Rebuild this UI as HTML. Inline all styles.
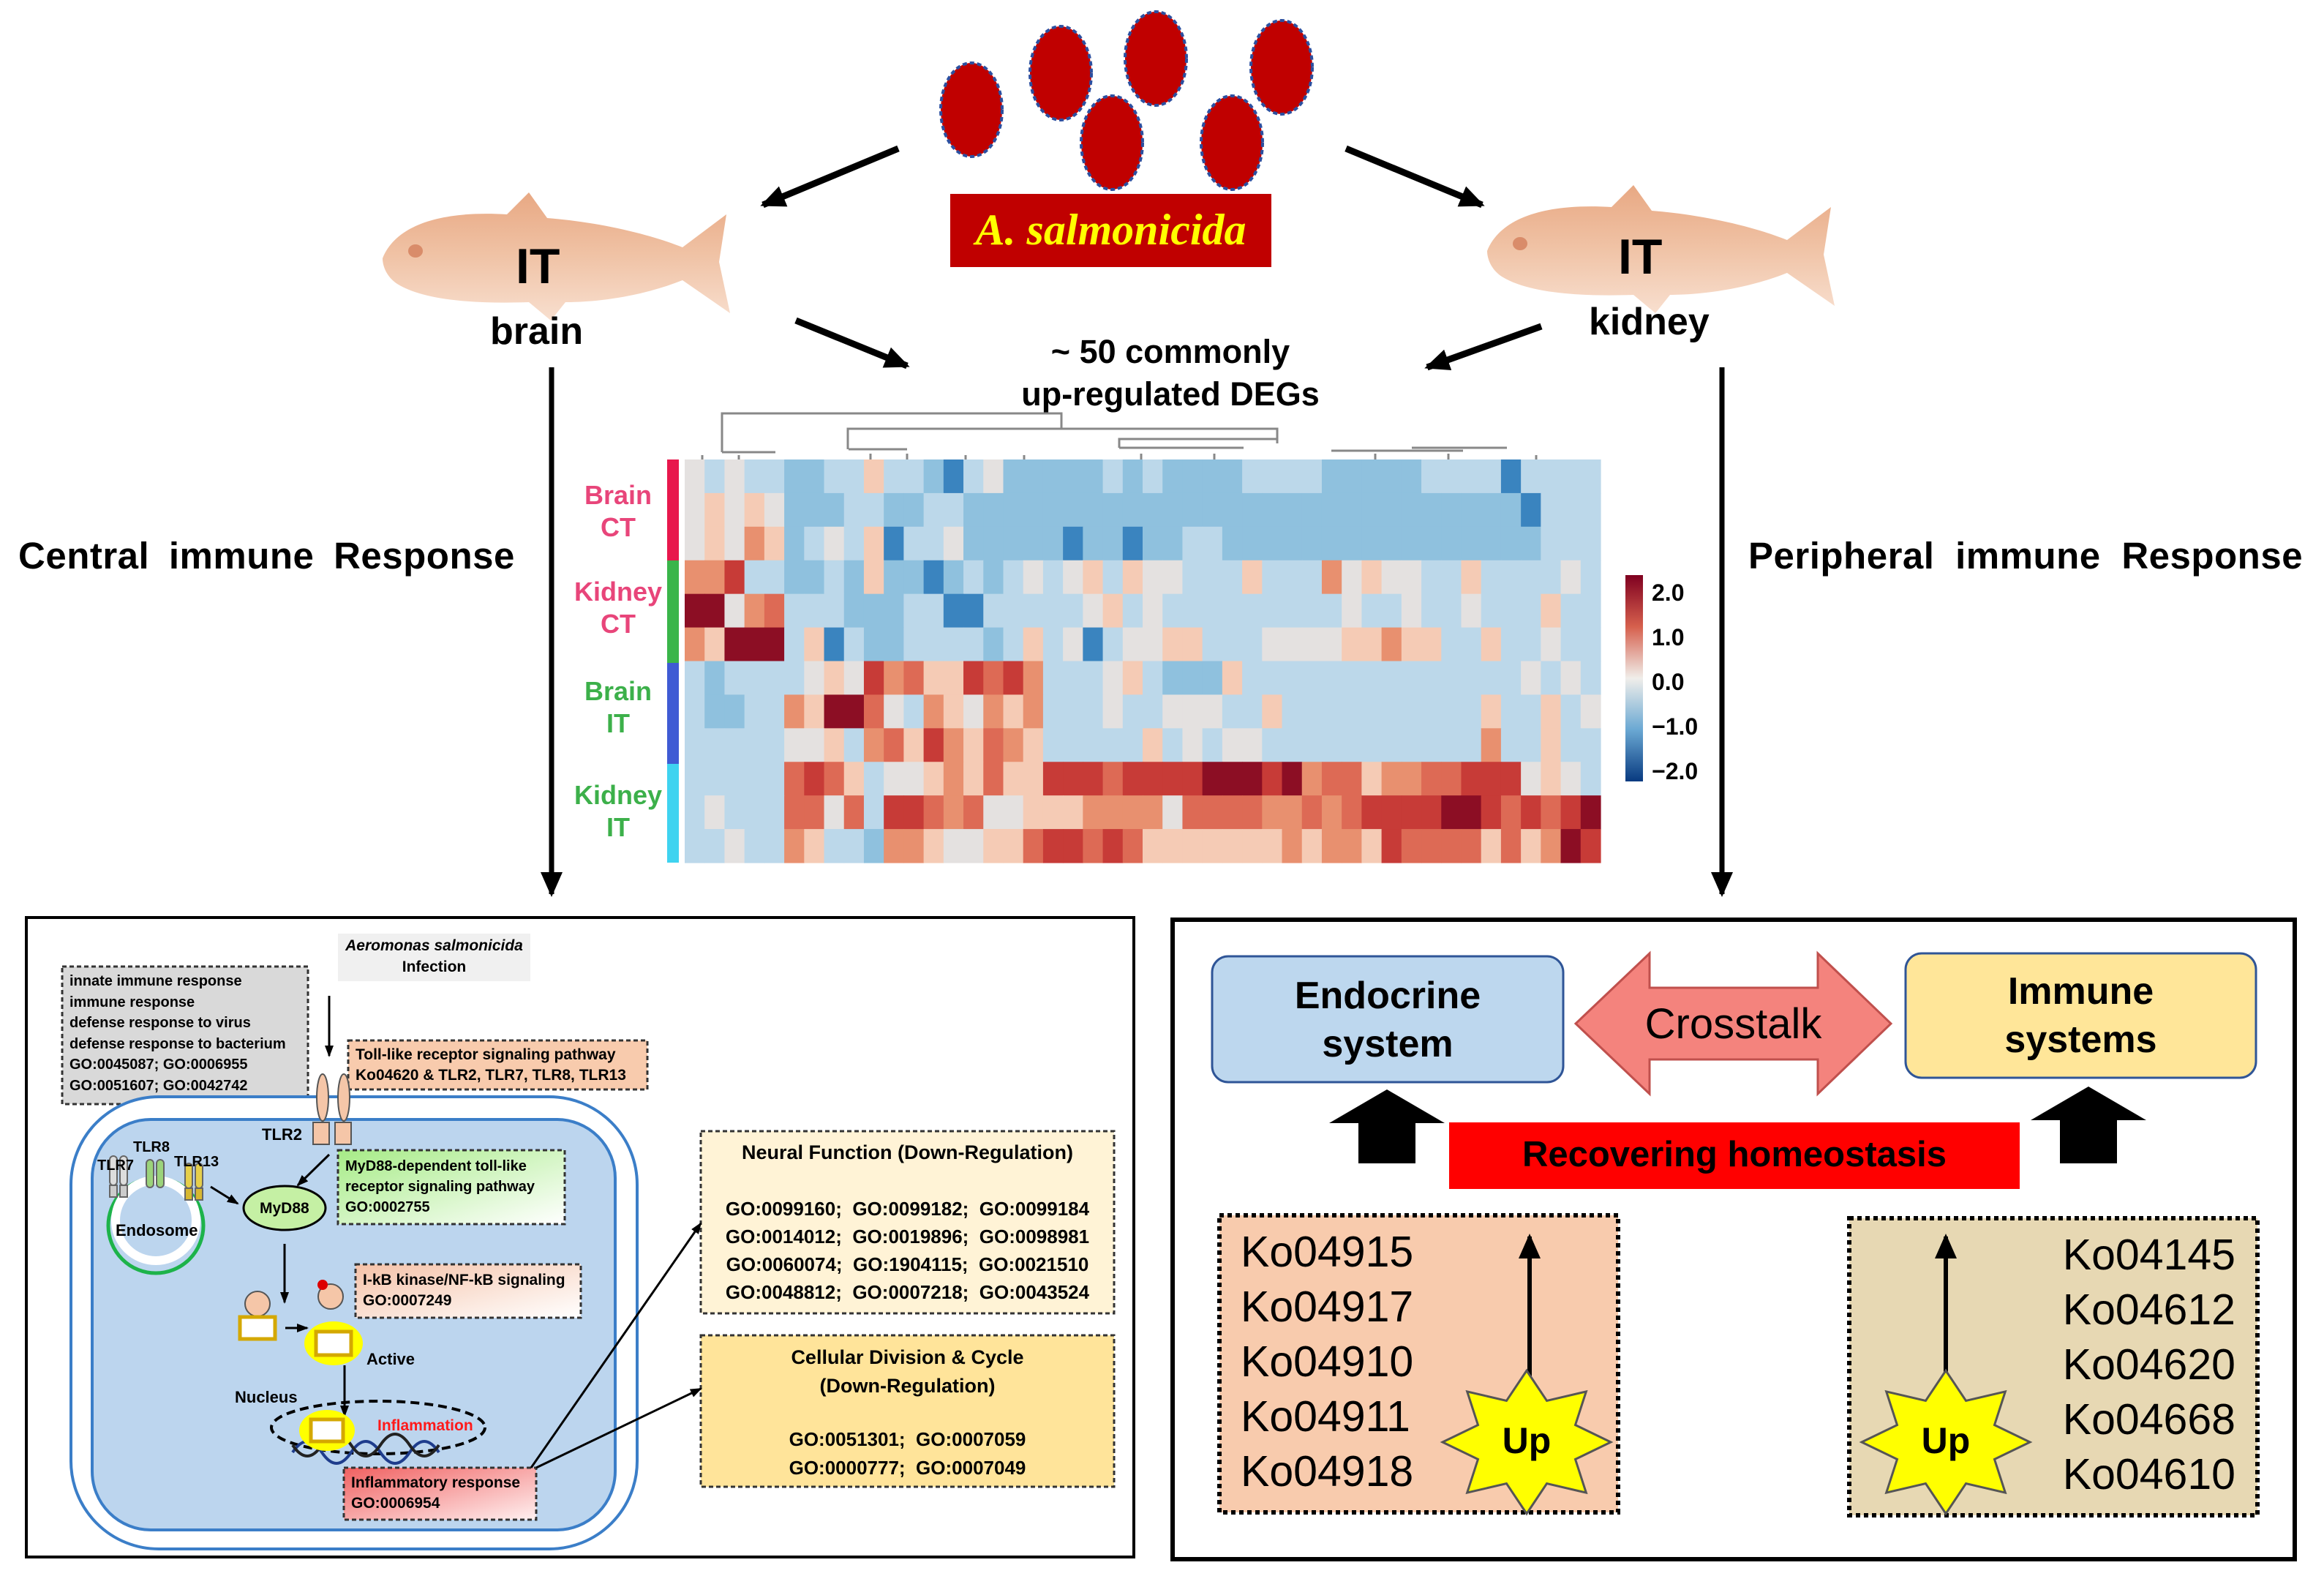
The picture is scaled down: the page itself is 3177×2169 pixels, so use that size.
<!DOCTYPE html>
<html><head><meta charset="utf-8"><style>
body{margin:0;width:3177px;height:2169px;background:#fff;position:relative;overflow:hidden;font-family:"Liberation Sans",sans-serif}
.a{position:absolute}
.t{position:absolute;white-space:nowrap}
.b{font-weight:bold}
</style></head><body>
<svg class="a" style="left:0;top:0" width="3177" height="2169" viewBox="0 0 3177 2169">
<defs>
<marker id="ah" markerWidth="10" markerHeight="10" refX="8" refY="5" orient="auto" markerUnits="userSpaceOnUse" viewBox="0 0 10 10"><path d="M0,0 L10,5 L0,10 z" fill="#000"/></marker>
<marker id="ahs" markerWidth="16" markerHeight="16" refX="14" refY="8" orient="auto" markerUnits="userSpaceOnUse" viewBox="0 0 16 16"><path d="M0,2 L16,8 L0,14 z" fill="#000"/></marker>
<marker id="ahb" markerWidth="34" markerHeight="34" refX="30" refY="17" orient="auto" markerUnits="userSpaceOnUse" viewBox="0 0 34 34"><path d="M0,2 L34,17 L0,32 z" fill="#000"/></marker>
<linearGradient id="gg" x1="0" x2="1" y1="0" y2="1"><stop offset="0" stop-color="#a6eb86"/><stop offset="1" stop-color="#fff"/></linearGradient>
<linearGradient id="gs" x1="0" x2="1" y1="0" y2="1"><stop offset="0" stop-color="#f5c2a8"/><stop offset="1" stop-color="#fff"/></linearGradient>
<linearGradient id="gr" x1="0" x2="1" y1="0" y2="1"><stop offset="0" stop-color="#f06060"/><stop offset="1" stop-color="#fff0f0"/></linearGradient>
<linearGradient id="fg" x1="0" x2="0" y1="0" y2="1"><stop offset="0" stop-color="#e8a883"/><stop offset=".5" stop-color="#f0c3a6"/><stop offset="1" stop-color="#f8dfcf"/></linearGradient>
<g id="fish">
<path d="M0,90 C20,40 90,25 170,30 L200,0 L225,35 C290,40 360,55 410,75 L470,30 L460,95 L475,165 L410,120 C360,140 300,150 250,150 L230,175 L200,150 C140,152 60,150 20,125 C5,115 0,100 0,90z" fill="url(#fg)"/>
<ellipse cx="45" cy="80" rx="10" ry="9" fill="#d98c6a"/>
</g>
<g id="bac"><ellipse cx="0" cy="0" rx="42" ry="64" fill="#c00000" stroke="#2b4fa0" stroke-width="4" stroke-dasharray="6 4"/></g>
</defs>
<use href="#bac" x="1328" y="150"/><use href="#bac" x="1450" y="100"/><use href="#bac" x="1580" y="80"/><use href="#bac" x="1752" y="92"/><use href="#bac" x="1520" y="195"/><use href="#bac" x="1684" y="195"/>
<use href="#fish" transform="translate(523,263)"/>
<use href="#fish" transform="translate(2033,253)"/>
<g stroke="#000" stroke-width="9" fill="none">
<line x1="1228" y1="203" x2="1043" y2="280" marker-end="url(#ahb)"/>
<line x1="1840" y1="203" x2="2026" y2="280" marker-end="url(#ahb)"/>
<line x1="1088" y1="438" x2="1240" y2="500" marker-end="url(#ahb)"/>
<line x1="2107" y1="446" x2="1951" y2="502" marker-end="url(#ahb)"/>
<line x1="754" y1="502" x2="754" y2="1222" stroke-width="7" marker-end="url(#ahb)"/>
<line x1="2354" y1="502" x2="2354" y2="1222" stroke-width="7" marker-end="url(#ahb)"/>
</g>
<g stroke="#888" stroke-width="3" fill="none">
<path d="M987,618 V565 H1451 V586"/>
<path d="M1159,614 V586 H1746 V606"/>
<path d="M1530,612 V600 H1746 V606"/>
<path d="M1530,612 H1700 M1160,614 H1240 M987,618 H1060 M1820,616 H2000 M1930,612 H2060"/>
<path d="M1190,620 V628 M1240,620 V628 M1320,622 V628 M1400,622 V628 M1560,620 V628 M1660,620 V628 M1880,620 V628 M1980,620 V628 M2100,622 V628 M960,622 V628 M1010,622 V628"/>
</g>
<rect x="912" y="628" width="16" height="138" fill="#e8174c"/>
<rect x="912" y="766" width="16" height="140" fill="#3ab54a"/>
<rect x="912" y="906" width="16" height="138" fill="#3f5bd4"/>
<rect x="912" y="1044" width="16" height="135" fill="#3fd3f0"/>
<g id="hm"></g>
<defs><linearGradient id="lg" x1="0" x2="0" y1="0" y2="1"><stop offset="0" stop-color="#7f0020"/><stop offset=".25" stop-color="#d6604d"/><stop offset=".5" stop-color="#f0eeea"/><stop offset=".75" stop-color="#6aa8d3"/><stop offset="1" stop-color="#083a80"/></linearGradient></defs>
<rect x="2222" y="786" width="24" height="282" fill="url(#lg)"/>
<rect x="36" y="1254" width="1514" height="874" fill="#fff" stroke="#000" stroke-width="4"/>
<rect x="462" y="1276" width="263" height="65" fill="#f0f0f0"/>
<rect x="85" y="1321" width="336" height="188" fill="#d9d9d9" stroke="#333" stroke-width="3" stroke-dasharray="6 4"/>
<rect x="97" y="1499" width="774" height="618" rx="120" fill="#fff" stroke="#3b7ec8" stroke-width="4"/>
<rect x="126" y="1530" width="715" height="561" rx="80" fill="#bcd5ee" stroke="#3b7ec8" stroke-width="4"/>
<line x1="450" y1="1361" x2="450" y2="1443" stroke="#000" stroke-width="3" marker-end="url(#ahs)"/>
<rect x="476" y="1422" width="409" height="67" fill="#f8cbad" stroke="#333" stroke-width="3" stroke-dasharray="6 4"/>
<g fill="#f5c6a8" stroke="#555" stroke-width="2">
<ellipse cx="441" cy="1500" rx="8" ry="32"/><ellipse cx="470" cy="1500" rx="8" ry="32"/>
<rect x="428" y="1534" width="22" height="30"/><rect x="458" y="1534" width="22" height="30"/>
</g>
<circle cx="213" cy="1675" r="65" fill="none" stroke="#1db34a" stroke-width="5"/>
<circle cx="213" cy="1668" r="55" fill="none" stroke="#fff" stroke-width="12"/>
<g stroke="#666" stroke-width="2">
<rect x="150" y="1580" width="10" height="40" rx="5" fill="#ddd"/><rect x="164" y="1580" width="10" height="40" rx="5" fill="#ddd"/>
<rect x="150" y="1620" width="10" height="16" fill="#ccc"/><rect x="164" y="1620" width="10" height="16" fill="#ccc"/>
<rect x="200" y="1585" width="10" height="38" rx="5" fill="#9bd37a"/><rect x="214" y="1585" width="10" height="38" rx="5" fill="#9bd37a"/>
<rect x="253" y="1590" width="10" height="34" rx="5" fill="#e6cf4a"/><rect x="267" y="1590" width="10" height="34" rx="5" fill="#e6cf4a"/>
<rect x="253" y="1624" width="10" height="16" fill="#d8b830"/><rect x="267" y="1624" width="10" height="16" fill="#d8b830"/>
</g>
<line x1="288" y1="1622" x2="325" y2="1645" stroke="#000" stroke-width="3" marker-end="url(#ahs)"/>
<line x1="450" y1="1578" x2="407" y2="1620" stroke="#000" stroke-width="3" marker-end="url(#ahs)"/>
<ellipse cx="389" cy="1651" rx="56" ry="30" fill="#c5f0a4" stroke="#000" stroke-width="3"/>
<rect x="462" y="1572" width="310" height="101" fill="url(#gg)" stroke="#333" stroke-width="3" stroke-dasharray="6 4"/>
<line x1="389" y1="1700" x2="389" y2="1780" stroke="#000" stroke-width="3" marker-end="url(#ahs)"/>
<rect x="486" y="1728" width="308" height="73" fill="url(#gs)" stroke="#333" stroke-width="3" stroke-dasharray="6 4"/>
<circle cx="352" cy="1782" r="17" fill="#f5c6a8" stroke="#555" stroke-width="2"/>
<rect x="328" y="1800" width="48" height="30" fill="#fff" stroke="#d4a800" stroke-width="5"/>
<circle cx="452" cy="1772" r="17" fill="#f5c6a8" stroke="#555" stroke-width="2"/>
<circle cx="441" cy="1756" r="7" fill="#d00"/>
<line x1="390" y1="1815" x2="420" y2="1815" stroke="#000" stroke-width="3" marker-end="url(#ahs)"/>
<ellipse cx="456" cy="1836" rx="40" ry="30" fill="#ffff00"/>
<rect x="432" y="1820" width="48" height="32" fill="#fff" stroke="#d4a800" stroke-width="5"/>
<line x1="471" y1="1866" x2="471" y2="1935" stroke="#000" stroke-width="3" marker-end="url(#ahs)"/>
<ellipse cx="517" cy="1951" rx="146" ry="36" fill="none" stroke="#000" stroke-width="4" stroke-dasharray="12 7"/>
<path d="M400,1985 q20,-30 40,0 t40,0 t40,0 t40,0 t40,0" fill="none" stroke="#1e3c8c" stroke-width="4"/>
<path d="M400,1975 q20,30 40,0 t40,0 t40,0 t40,0 t40,0" fill="none" stroke="#222" stroke-width="4"/>
<ellipse cx="447" cy="1955" rx="38" ry="28" fill="#ffff00"/>
<rect x="425" y="1940" width="44" height="30" fill="#fff" stroke="#d4a800" stroke-width="5"/>
<rect x="470" y="2006" width="263" height="71" fill="url(#gr)" stroke="#333" stroke-width="3" stroke-dasharray="6 4"/>
<rect x="958" y="1546" width="565" height="249" fill="#fff3d6" stroke="#333" stroke-width="3" stroke-dasharray="6 4"/>
<rect x="958" y="1825" width="565" height="207" fill="#ffe49a" stroke="#333" stroke-width="3" stroke-dasharray="6 4"/>
<line x1="726" y1="2006" x2="958" y2="1672" stroke="#000" stroke-width="3" marker-end="url(#ahs)"/>
<line x1="733" y1="2006" x2="958" y2="1898" stroke="#000" stroke-width="3" marker-end="url(#ahs)"/>
<rect x="1603" y="1257" width="1534" height="874" fill="#fff" stroke="#000" stroke-width="6"/>
<rect x="1657" y="1307" width="480" height="172" rx="22" fill="#bdd7ee" stroke="#2f5597" stroke-width="3"/>
<rect x="2605" y="1303" width="479" height="170" rx="22" fill="#ffe699" stroke="#2f5597" stroke-width="3"/>
<path d="M2154,1399 L2255,1303 L2255,1350 L2485,1350 L2485,1303 L2585,1399 L2485,1495 L2485,1448 L2255,1448 L2255,1495 z" fill="#f4837d" stroke="#c0504d" stroke-width="3"/>
<path d="M1896,1489 L1975,1535 L1935,1535 L1935,1590 L1857,1590 L1857,1535 L1817,1535 z" fill="#000"/>
<path d="M2855,1485 L2934,1531 L2894,1531 L2894,1590 L2816,1590 L2816,1531 L2776,1531 z" fill="#000"/>
<rect x="1981" y="1534" width="780" height="91" fill="#ff0000"/>
<rect x="1667" y="1661" width="545" height="406" fill="#f8cbad" stroke="#000" stroke-width="6" stroke-dasharray="6 5"/>
<rect x="2528" y="1665" width="558" height="406" fill="#e7d8b3" stroke="#000" stroke-width="6" stroke-dasharray="6 5"/>
<line x1="2091" y1="1960" x2="2091" y2="1690" stroke="#000" stroke-width="6" marker-end="url(#ahb)"/>
<line x1="2660" y1="1960" x2="2660" y2="1690" stroke="#000" stroke-width="6" marker-end="url(#ahb)"/>
<g id="stars"></g>
</svg>
<div class="a" style="left:1299px;top:265px;width:439px;height:100px;background:#c00000"></div>
<div class="t" style="left:1299px;top:280px;width:439px;text-align:center;font-family:'Liberation Serif',serif;font-style:italic;font-weight:bold;font-size:60px;color:#ffff00">A. salmonicida</div>
<div class="t b" style="left:705px;top:325px;font-size:68px">IT</div>
<div class="t b" style="left:670px;top:423px;font-size:52px">brain</div>
<div class="t b" style="left:2212px;top:312px;font-size:68px">IT</div>
<div class="t b" style="left:2172px;top:410px;font-size:52px">kidney</div>
<div class="t b" style="left:1380px;top:452px;width:440px;text-align:center;font-size:45px;line-height:58px">~ 50 commonly<br>up-regulated DEGs</div>
<div class="t b" style="left:25px;top:730px;font-size:51px;word-spacing:12px;letter-spacing:0.5px">Central immune Response</div>
<div class="t b" style="left:2390px;top:730px;font-size:51px;word-spacing:14px;letter-spacing:0.5px">Peripheral immune Response</div>
<div class="t b" style="left:760px;top:655px;width:170px;text-align:center;font-size:36px;line-height:44px;color:#e8457a">Brain<br>CT</div>
<div class="t b" style="left:760px;top:787px;width:170px;text-align:center;font-size:36px;line-height:44px;color:#e8457a">Kidney<br>CT</div>
<div class="t b" style="left:760px;top:923px;width:170px;text-align:center;font-size:36px;line-height:44px;color:#3cb04a">Brain<br>IT</div>
<div class="t b" style="left:760px;top:1065px;width:170px;text-align:center;font-size:36px;line-height:44px;color:#3cb04a">Kidney<br>IT</div>
<div class="t b" style="left:2258px;top:780px;font-size:32px;line-height:61px">2.0<br>1.0<br>0.0<br>−1.0<br>−2.0</div>
<div class="t b" style="left:462px;top:1278px;width:263px;text-align:center;font-size:21px;line-height:29px"><i>Aeromonas salmonicida</i><br>Infection</div>
<div class="t b" style="left:95px;top:1327px;font-size:20px;line-height:28.5px">innate immune response<br>immune response<br>defense response to virus<br>defense response to bacterium<br>GO:0045087; GO:0006955<br>GO:0051607; GO:0042742</div>
<div class="t b" style="left:486px;top:1428px;font-size:21px;line-height:28px">Toll-like receptor signaling pathway<br>Ko04620 &amp; TLR2, TLR7, TLR8, TLR13</div>
<div class="t b" style="left:358px;top:1538px;font-size:22px">TLR2</div>
<div class="t b" style="left:182px;top:1557px;font-size:20px">TLR8</div>
<div class="t b" style="left:133px;top:1582px;font-size:20px">TLR7</div>
<div class="t b" style="left:238px;top:1577px;font-size:20px">TLR13</div>
<div class="t b" style="left:158px;top:1669px;font-size:22px">Endosome</div>
<div class="t b" style="left:355px;top:1640px;font-size:21px">MyD88</div>
<div class="t b" style="left:472px;top:1580px;font-size:20px;line-height:28px">MyD88-dependent toll-like<br>receptor signaling pathway<br>GO:0002755</div>
<div class="t b" style="left:496px;top:1736px;font-size:21px;line-height:28px">I-kB kinase/NF-kB signaling<br>GO:0007249</div>
<div class="t b" style="left:501px;top:1845px;font-size:22px">Active</div>
<div class="t b" style="left:321px;top:1897px;font-size:22px">Nucleus</div>
<div class="t b" style="left:516px;top:1937px;font-size:21px;color:#ff1a1a">Inflammation</div>
<div class="t b" style="left:480px;top:2013px;font-size:21px;line-height:28px">Inflammatory response<br>GO:0006954</div>
<div class="t b" style="left:958px;top:1560px;width:565px;text-align:center;font-size:27px">Neural Function (Down-Regulation)</div>
<div class="t b" style="left:958px;top:1633px;width:565px;text-align:center;font-size:26px;line-height:38px">GO:0099160;&nbsp; GO:0099182;&nbsp; GO:0099184<br>GO:0014012;&nbsp; GO:0019896;&nbsp; GO:0098981<br>GO:0060074;&nbsp; GO:1904115;&nbsp; GO:0021510<br>GO:0048812;&nbsp; GO:0007218;&nbsp; GO:0043524</div>
<div class="t b" style="left:958px;top:1836px;width:565px;text-align:center;font-size:27px;line-height:39px">Cellular Division &amp; Cycle<br>(Down-Regulation)</div>
<div class="t b" style="left:958px;top:1948px;width:565px;text-align:center;font-size:26px;line-height:39px">GO:0051301;&nbsp; GO:0007059<br>GO:0000777;&nbsp; GO:0007049</div>
<div class="t b" style="left:1657px;top:1328px;width:480px;text-align:center;font-size:52px;line-height:66px">Endocrine<br>system</div>
<div class="t b" style="left:2605px;top:1322px;width:479px;text-align:center;font-size:52px;line-height:66px">Immune<br>systems</div>
<div class="t" style="left:2154px;top:1366px;width:431px;text-align:center;font-size:58px">Crosstalk</div>
<div class="t b" style="left:1981px;top:1550px;width:780px;text-align:center;font-size:49px">Recovering homeostasis</div>
<div class="t" style="left:1696px;top:1674px;font-size:59px;line-height:75px">Ko04915<br>Ko04917<br>Ko04910<br>Ko04911<br>Ko04918</div>
<div class="t" style="left:2790px;top:1678px;width:266px;text-align:right;font-size:59px;line-height:75px">Ko04145<br>Ko04612<br>Ko04620<br>Ko04668<br>Ko04610</div>
<div class="t b" style="left:2027px;top:1940px;width:120px;text-align:center;font-size:50px">Up</div>
<div class="t b" style="left:2600px;top:1940px;width:120px;text-align:center;font-size:50px">Up</div>
<script>
var rows=["wbwbbBBbbpbbBDbwBBBBBbBbBBBBbbbbBBBBBbbbbDbbbb","wpwpwBBBbbBBbbBBBBBBBBBBBBBBBBBBBBBBBBBBBBDbbb","wpwopBbwbpDbbwBBBBBDBBDBBbbBBBBBBBBBBBBBBBBbbb","oorbbBBbBpBBDBbBbwbwpbpwwbbbpbbbowpwwbbpbbbbwb","RRwombbbBBBbbDDbbbbbwpbwbbbbbbbbbwbbwbbwbbbpbb","opRRRbpDbBBbbbbBbpbwDbwwppbbbwwwwppoppbbpbbwbb","bBbbbbwpwrompprmrobbbwpbBBBpbbbbbbbbbbbbbbwbwb","bBBbbopRRmwbopwopobbbwbbwwwbbpbbbbbbbbbbpbbpbw","bbbbbwwpbompropmopbbbbbpbwbwwbbbbbbbbbbbobbpbb","bbbbbmrmpbwwpopmpprrrmrrrrRRRrRommpoommrrrwpwb","bwbbbmmwmbrrmomwwpppoooowmmmmoomomrrrrRRrmrmrR","bbwbbopbbBoopwwppmrrmrmpppppppopooprmmmmpmpoRr"];
var C={D:"#3a84bf",B:"#8fc1de",b:"#bcd8ea",w:"#e4e1e0",p:"#f5cbb5",o:"#e8906f",m:"#dd6a55",r:"#c73b37",R:"#8c0e24"};
var ns="http://www.w3.org/2000/svg",g=document.getElementById("hm");
var x0=936,y0=628,W=(2188-936)/46,H=(1179-628)/12;
for(var i=0;i<12;i++){for(var j=0;j<46;j++){var ch=rows[i][j]||"b";var r=document.createElementNS(ns,"rect");r.setAttribute("x",x0+j*W);r.setAttribute("y",y0+i*H);r.setAttribute("width",W+0.6);r.setAttribute("height",H+0.6);r.setAttribute("fill",C[ch]);g.appendChild(r);}}
var s=document.getElementById("stars");
[[2087,1971],[2660,1971]].forEach(function(c){var p="";for(var k=0;k<16;k++){var a=Math.PI*2*k/16-Math.PI/2;var rr=k%2?72:115;p+=(c[0]+rr*Math.cos(a))+","+(c[1]+rr*0.85*Math.sin(a))+" ";}var e=document.createElementNS(ns,"polygon");e.setAttribute("points",p);e.setAttribute("fill","#ffff00");e.setAttribute("stroke","#555");e.setAttribute("stroke-width","3");s.appendChild(e);});
</script>
</body></html>
